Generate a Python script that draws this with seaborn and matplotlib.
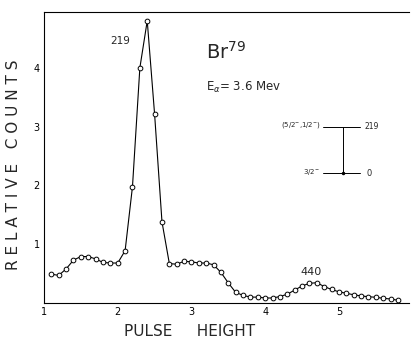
import numpy as np
import pandas as pd
import matplotlib
matplotlib.use("Agg")
import matplotlib.pyplot as plt
import seaborn as sns

# Data
pulse_height = [1.1, 1.2, 1.3, 1.4, 1.5, 1.6, 1.7, 1.8, 1.9, 2.0,
                2.1, 2.2, 2.3, 2.4, 2.5, 2.6, 2.7, 2.8, 2.9, 3.0,
                3.1, 3.2, 3.3, 3.4, 3.5, 3.6, 3.7, 3.8, 3.9, 4.0,
                4.1, 4.2, 4.3, 4.4, 4.5, 4.6, 4.7, 4.8, 4.9, 5.0,
                5.1, 5.2, 5.3, 5.4, 5.5, 5.6, 5.7, 5.8]
relative_counts = [0.49, 0.47, 0.58, 0.73, 0.79, 0.79, 0.75, 0.69, 0.68, 0.68,
                   0.89, 1.98, 4.00, 4.80, 3.21, 1.38, 0.67, 0.66, 0.71, 0.70,
                   0.68, 0.68, 0.65, 0.52, 0.34, 0.18, 0.13, 0.10, 0.10, 0.085,
                   0.085, 0.11, 0.15, 0.22, 0.29, 0.335, 0.345, 0.28, 0.23, 0.19,
                   0.165, 0.14, 0.12, 0.107, 0.097, 0.08, 0.068, 0.046]
x_ticks = [1, 2, 3, 4, 5]
y_ticks = [1, 2, 3, 4]
x_tick_labels = ["1", "2", "3", "4", "5"]
y_tick_labels = ["1", "2", "3", "4"]

df = pd.DataFrame({"x": pulse_height, "y": relative_counts})

sns.set_style("white")
plt.rcParams['font.family'] = ['DejaVu Sans']

fig = plt.figure(figsize=(4.12, 3.39), dpi=100)
ax = fig.add_axes([44 / 412, 1 - 303 / 339, (409 - 44) / 412, (303 - 12) / 339])

sns.lineplot(data=df, x="x", y="y", ax=ax, color="black", linewidth=0.8,
             marker="o", markersize=3.4, markerfacecolor="white",
             markeredgecolor="black", markeredgewidth=0.7)

ax.set_xlim(1.0, 5.95)
ax.set_ylim(0, 4.95)
ax.set_xticks(x_ticks)
ax.set_xticklabels(x_tick_labels)
ax.set_yticks(y_ticks)
ax.set_yticklabels(y_tick_labels)
ax.tick_params(axis="both", direction="in", length=2, width=0.6,
               labelsize=7, pad=3, colors="black")
for side in ["left", "bottom", "top"]:
    ax.spines[side].set_color("black")
    ax.spines[side].set_linewidth(0.8)
ax.spines["right"].set_visible(False)

ax.set_xlabel("")
ax.set_ylabel("")
fig.text(190 / 412, 1 - 331 / 339, "PULSE     HEIGHT", ha="center", va="center",
         fontsize=11)
fig.text(14 / 412, 1 - 165 / 339, "R E L A T I V E   C O U N T S", ha="center",
         va="center", rotation=90, fontsize=11)

# Annotations
ax.text(2.04, 4.46, "219", ha="center", va="center", fontsize=7.5)
ax.text(4.62, 0.53, "440", ha="center", va="center", fontsize=8)
ax.text(3.20, 4.28, r"Br$^{79}$", ha="left", va="center", fontsize=14)
ax.text(3.20, 3.66, r"E$_{\alpha}$= 3.6 Mev", ha="left", va="center", fontsize=8.5)

# Level diagram
ax.plot([4.78, 5.28], [3.0, 3.0], color="black", linewidth=0.7)
ax.plot([4.78, 5.28], [2.21, 2.21], color="black", linewidth=0.7)
ax.plot([5.05, 5.05], [2.21, 3.0], color="black", linewidth=0.7)
ax.plot([5.05], [2.21], marker="o", markersize=1.5, color="black")
ax.text(4.76, 3.03, r"(5/2$^{-}$,1/2$^{-}$)", ha="right", va="center", fontsize=5)
ax.text(5.35, 3.0, "219", ha="left", va="center", fontsize=5.5)
ax.text(4.74, 2.23, r"3/2$^{-}$", ha="right", va="center", fontsize=5)
ax.text(5.38, 2.21, "0", ha="left", va="center", fontsize=6)

fig.savefig("out.png", dpi=100)
